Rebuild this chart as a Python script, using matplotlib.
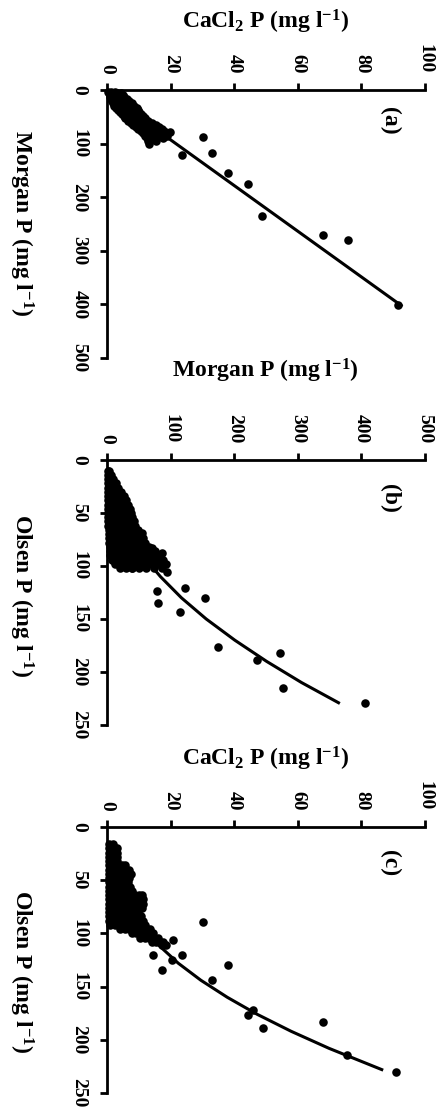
import numpy as np
import matplotlib.pyplot as plt

plt.rcParams['font.family'] = ['Liberation Serif', 'DejaVu Serif']
plt.rcParams['font.weight'] = 'bold'
plt.rcParams['mathtext.fontset'] = 'custom'
plt.rcParams['mathtext.rm'] = 'Liberation Serif:bold'
plt.rcParams['mathtext.it'] = 'Liberation Serif:bold'
plt.rcParams['mathtext.bf'] = 'Liberation Serif:bold'

W, H = 440, 1114

# (a) Morgan P, CaCl2 P
points_a = [
    (3, 0.3), (3, 1.2), (3, 2.4), (6, 0.6), (6, 1.8), (6, 3.2), (6, 4.4),
    (9, 0.8), (9, 2.2), (9, 3.6), (9, 5.0), (13, 1.0), (13, 2.5), (13, 4.0), (13, 5.5),
    (17, 1.2), (17, 2.8), (17, 4.5), (17, 6.2), (21, 1.5), (21, 3.3), (21, 5.2), (21, 7.0),
    (25, 1.8), (25, 3.8), (25, 5.8), (25, 7.8), (29, 2.2), (29, 4.4), (29, 6.5), (29, 8.6),
    (33, 2.8), (33, 5.0), (33, 7.2), (33, 9.3), (37, 3.4), (37, 5.6), (37, 7.8), (37, 9.8),
    (41, 4.0), (41, 6.2), (41, 8.4), (41, 10.2), (45, 4.6), (45, 6.8), (45, 9.0), (45, 10.8),
    (49, 5.2), (49, 7.5), (49, 9.6), (49, 11.2), (53, 5.8), (53, 8.2), (53, 10.3), (53, 12.0),
    (57, 6.6), (57, 9.0), (57, 11.2), (57, 13.0), (61, 7.4), (61, 9.8), (61, 12.2), (61, 14.2),
    (65, 8.2), (65, 10.6), (65, 13.2), (65, 15.3), (69, 9.0), (69, 11.5), (69, 14.0), (69, 16.3),
    (73, 9.8), (73, 12.3), (73, 14.8), (73, 17.2), (77, 10.6), (77, 13.0), (77, 15.5), (77, 18.0),
    (81, 11.3), (81, 13.8), (81, 16.2), (81, 18.6), (85, 12.0), (85, 14.4), (85, 16.8), (85, 19.0),
    (90, 12.6), (90, 15.0), (90, 17.5), (96, 13.0), (96, 15.4), (100, 13.3),
    (78, 19.8), (88, 30.2), (118, 33.0), (121, 23.6), (155, 38.1), (175, 44.3),
    (235, 48.7), (270, 67.9), (280, 75.8), (401, 91.5),
]
morgan_fit_a = [12, 402]
cacl2_fit_a = [1.0, 92.5]

# (b) Olsen P, Morgan P
points_b = [
    (10, 1), (10, 3), (14, 1), (14, 4), (14, 6), (18, 1), (18, 4), (18, 7), (18, 10),
    (22, 1), (22, 5), (22, 9), (22, 14), (26, 1), (26, 5), (26, 9), (26, 14), (26, 18),
    (30, 1), (30, 6), (30, 11), (30, 16), (30, 22),
    (34, 2), (34, 7), (34, 12), (34, 17), (34, 22), (34, 26),
    (38, 2), (38, 7), (38, 12), (38, 18), (38, 24), (38, 30),
    (42, 2), (42, 7), (42, 13), (42, 19), (42, 26), (42, 33),
    (46, 2), (46, 8), (46, 14), (46, 20), (46, 27), (46, 36),
    (50, 2), (50, 8), (50, 14), (50, 20), (50, 26), (50, 32), (50, 38),
    (54, 2), (54, 8), (54, 14), (54, 21), (54, 28), (54, 34), (54, 40),
    (58, 2), (58, 9), (58, 15), (58, 22), (58, 29), (58, 36), (58, 42),
    (62, 2), (62, 9), (62, 16), (62, 23), (62, 30), (62, 37), (62, 44),
    (66, 3), (66, 10), (66, 17), (66, 24), (66, 32), (66, 40), (66, 48),
    (70, 3), (70, 10), (70, 18), (70, 26), (70, 34), (70, 42), (70, 50), (70, 53),
    (74, 3), (74, 10), (74, 18), (74, 26), (74, 34), (74, 42), (74, 50), (74, 56),
    (78, 3), (78, 11), (78, 19), (78, 27), (78, 35), (78, 44), (78, 52), (78, 60),
    (82, 4), (82, 12), (82, 20), (82, 29), (82, 38), (82, 47), (82, 56), (82, 66),
    (86, 4), (86, 13), (86, 22), (86, 31), (86, 40), (86, 50), (86, 60), (86, 68), (86, 76),
    (90, 5), (90, 14), (90, 23), (90, 32), (90, 42), (90, 52), (90, 62), (90, 72), (90, 82),
    (94, 8), (94, 17), (94, 26), (94, 36), (94, 46), (94, 56), (94, 66), (94, 77), (94, 88),
    (98, 12), (98, 21), (98, 30), (98, 40), (98, 50), (98, 60), (98, 71), (98, 82), (98, 93),
    (102, 20), (102, 30), (102, 40), (102, 50), (102, 62), (102, 74), (102, 86),
    (96, 13), (102, 39), (106, 94), (83, 70), (88, 86), (69, 55),
    (121, 123), (130, 154), (124, 79), (135, 80), (143, 115), (176, 175),
    (189, 236), (182, 272), (215, 277), (229, 406),
]
olsen_fit_b = [30, 50, 70, 90, 110, 130, 150, 170, 190, 210, 229]
morgan_fit_b = [6, 17, 34, 56, 84, 117, 156, 201, 251, 306, 364]

# (c) Olsen P, CaCl2 P
points_c = [
    (16, 0.5), (16, 1.8), (20, 0.5), (20, 1.8), (20, 3.0),
    (24, 0.5), (24, 1.8), (24, 3.2), (28, 0.5), (28, 1.8), (28, 3.2),
    (32, 0.5), (32, 1.8), (32, 3.2),
    (36, 0.5), (36, 1.8), (36, 3.2), (36, 4.6), (36, 5.8),
    (40, 0.5), (40, 1.8), (40, 3.2), (40, 4.6), (40, 6.0), (40, 6.8),
    (44, 0.5), (44, 1.8), (44, 3.2), (44, 4.6), (44, 6.0), (44, 7.4),
    (48, 0.5), (48, 1.8), (48, 3.2), (48, 4.6), (48, 6.0), (48, 6.8),
    (52, 0.5), (52, 1.8), (52, 3.2), (52, 4.6), (52, 6.0), (52, 6.6),
    (56, 0.5), (56, 1.8), (56, 3.2), (56, 4.6), (56, 6.0), (56, 7.2),
    (60, 0.5), (60, 1.8), (60, 3.2), (60, 4.6), (60, 6.0), (60, 7.4), (60, 8.0),
    (64, 0.5), (64, 1.8), (64, 3.2), (64, 4.6), (64, 6.0), (64, 7.4), (64, 8.8), (64, 10.2), (64, 11.0),
    (68, 0.5), (68, 1.8), (68, 3.2), (68, 4.6), (68, 6.0), (68, 7.4), (68, 8.8), (68, 10.2), (68, 11.4),
    (72, 0.5), (72, 1.8), (72, 3.2), (72, 4.6), (72, 6.0), (72, 7.4), (72, 8.8), (72, 10.2), (72, 11.2),
    (76, 0.5), (76, 1.8), (76, 3.2), (76, 4.6), (76, 6.0), (76, 7.4), (76, 8.8), (76, 10.2), (76, 11.0),
    (80, 0.5), (80, 1.8), (80, 3.2), (80, 4.6), (80, 6.0), (80, 7.4), (80, 8.8), (80, 9.6),
    (84, 0.5), (84, 1.8), (84, 3.2), (84, 4.6), (84, 6.0), (84, 7.4), (84, 8.8), (84, 10.2), (84, 10.8),
    (88, 0.6), (88, 1.8), (88, 3.2), (88, 4.6), (88, 6.0), (88, 7.4), (88, 8.8), (88, 10.2), (88, 11.4),
    (92, 1.0), (92, 2.4), (92, 3.8), (92, 5.2), (92, 6.6), (92, 8.0), (92, 9.4), (92, 10.8), (92, 12.0),
    (96, 4.2), (96, 5.6), (96, 7.0), (96, 8.4), (96, 9.8), (96, 11.2), (96, 12.6), (96, 13.4),
    (100, 7.8), (100, 9.2), (100, 10.6), (100, 12.0), (100, 13.4), (100, 14.6),
    (104, 10.5), (104, 11.8), (104, 13.2), (104, 14.6), (104, 16.0),
    (108, 14.0), (108, 15.4), (108, 16.8), (108, 17.6), (111, 17.2), (111, 18.5),
    (89, 30.2), (106, 20.8), (120, 23.6), (125, 20.4), (120, 14.5), (134, 17.3),
    (130, 38.1), (144, 33.0), (177, 44.3), (172, 46.0), (189, 49.0), (183, 68.0),
    (214, 75.4), (230, 91.0),
]
olsen_fit_c = [70, 90, 106, 128, 144, 160, 176, 192, 208, 228]
cacl2_fit_c = [5.5, 9.9, 14.4, 22.4, 29.5, 37.8, 47.2, 57.9, 69.8, 86.4]

lab_ca = r'CaCl$_2$ P (mg l$^{-1}$)'
lab_morgan = r'Morgan P (mg l$^{-1}$)'
lab_olsen = r'Olsen P (mg l$^{-1}$)'


def make_panel(fig, top, bottom, xmax, xticks, ymax, yticks):
    # figure is laid out turned a quarter clockwise: the vertical axis runs downwards
    ax = fig.add_axes([107 / W, 1 - bottom / H, 318 / W, (bottom - top) / H])
    ax.set_xlim(0, xmax)
    ax.set_ylim(ymax, 0)
    ax.spines['right'].set_visible(False)
    ax.spines['bottom'].set_visible(False)
    ax.spines['left'].set_linewidth(2)
    ax.spines['top'].set_linewidth(2)
    ax.xaxis.tick_top()
    ax.set_xticks(xticks)
    ax.set_yticks(yticks)
    ax.tick_params(axis='both', direction='out', length=5, width=2, labelsize=14)
    ax.tick_params(axis='x', pad=7, labelrotation=-90)
    ax.tick_params(axis='y', pad=9, labelrotation=-90)
    for t in ax.get_yticklabels():
        t.set_va('center')
        t.set_fontweight('bold')
    for t in ax.get_xticklabels():
        t.set_fontweight('bold')
    return ax


def draw_points(ax, pts):
    ys = [p[0] for p in pts]
    xs = [p[1] for p in pts]
    ax.scatter(xs, ys, s=38, c='black', linewidths=0, zorder=3, clip_on=False)


fig = plt.figure(figsize=(W / 100, H / 100), dpi=100)

ax_a = make_panel(fig, 90, 358, 100, range(0, 101, 20), 500, range(0, 501, 100))
draw_points(ax_a, points_a)
ax_a.plot(cacl2_fit_a, morgan_fit_a, color='black', lw=2.2)

ax_b = make_panel(fig, 460, 725, 500, range(0, 501, 100), 250, range(0, 251, 50))
draw_points(ax_b, points_b)
ax_b.plot(morgan_fit_b, olsen_fit_b, color='black', lw=2.2)

ax_c = make_panel(fig, 827, 1093, 100, range(0, 101, 20), 250, range(0, 251, 50))
draw_points(ax_c, points_c)
ax_c.plot(cacl2_fit_c, olsen_fit_c, color='black', lw=2.2)


def put(x, y, s, rot=0, size=17):
    fig.text(x / W, 1 - y / H, s, rotation=rot, ha='center', va='center',
             fontsize=size, fontweight='bold')


put(265, 22, lab_ca)
put(265, 371, lab_morgan)
put(265, 759, lab_ca)
put(21, 223, lab_morgan, rot=-90)
put(21, 596, lab_olsen, rot=-90)
put(21, 972, lab_olsen, rot=-90)
put(390, 121, '(a)', rot=-90)
put(390, 498, '(b)', rot=-90)
put(390, 863, '(c)', rot=-90)

fig.savefig('out.png', dpi=100)
